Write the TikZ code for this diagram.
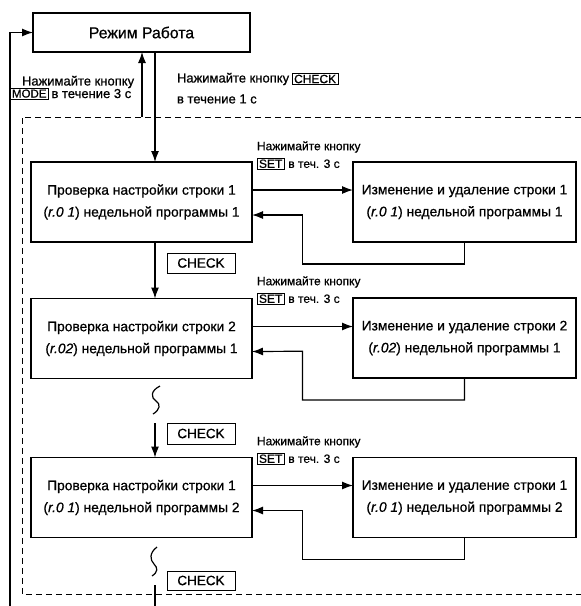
\documentclass[tikz,border=0pt]{standalone}
\usepackage{fontspec}
\setmainfont[FakeBold=0.7]{Liberation Sans}
\usetikzlibrary{arrows.meta,positioning,calc}

\newcommand{\segcode}[1]{\textit{#1}}

\begin{document}
\begin{tikzpicture}[
  x=1pt, y=-1pt,
  every node/.style={inner sep=0pt, outer sep=0pt},
  state/.style={draw, rectangle, line width=1.4pt, minimum width=221pt, minimum height=80pt,
    align=center, font=\fontsize{13.8}{22}\selectfont},
  keybox/.style={draw, rectangle, line width=0.8pt, inner xsep=2pt, inner ysep=1.5pt,
    font=\fontsize{12}{14}\selectfont},
  note/.style={font=\fontsize{13}{14}\selectfont},
  small/.style={font=\fontsize{12}{13}\selectfont},
  link/.style={line width=1.2pt},
  arr/.style={line width=1.2pt, -{Latex[length=11pt,width=8pt]}},
  frame/.style={line width=1pt, dash pattern=on 6pt off 4pt},
]
\useasboundingbox (0,0) rectangle (581,606);

% operating mode
\node[state, minimum width=217pt, minimum height=39pt, font=\fontsize{15.8}{18}\selectfont]
  (mode) at (141.5,32.5) {Режим Работа};

\node[note, anchor=west] (hintm) at (22,82) {Нажимайте кнопку};
\node[keybox, anchor=north west, font=\fontsize{11.5}{13}\selectfont] (modekey) at (10,88) {MODE};
\node[note, anchor=west] (timem) at ([xshift=3pt]modekey.east) {в течение 3 с};
\node[note, anchor=west] (hintc) at (177,79) {Нажимайте кнопку};
\node[keybox, anchor=west] (checkkey) at ([xshift=3pt]hintc.east) {CHECK};
\node[note, anchor=west] (timec) at (177,99) {в течение 1 с};

% rows of the week program
\node[state] (chk1) at (141.5,202) {Проверка настройки строки 1\\(\segcode{r.0 1}) недельной программы 1};
\node[state, minimum width=223pt] (edt1) at (464.5,202) {Изменение и удаление строки 1\\(\segcode{r.0 1}) недельной программы 1};
\node[state] (chk2) at (141.5,338.5) {Проверка настройки строки 2\\(\segcode{r.02}) недельной программы 1};
\node[state, minimum width=223pt] (edt2) at (464.5,338) {Изменение и удаление строки 2\\(\segcode{r.02}) недельной программы 1};
\node[state] (chk3) at (141.5,497.5) {Проверка настройки строки 1\\(\segcode{r.0 1}) недельной программы 2};
\node[state, minimum width=223pt] (edt3) at (464.5,497.5) {Изменение и удаление строки 1\\(\segcode{r.0 1}) недельной программы 2};

% SET hints
\foreach \r/\t in {1/162, 2/297, 3/457} {
  \node[small, anchor=west] (hint\r) at (257,\t-15) {Нажимайте кнопку};
  \node[keybox, small, anchor=north west] (set\r) at (257,\t-4) {SET};
  \node[small, anchor=west] (time\r) at ([xshift=4pt]set\r.east) {в теч. 3 с};
}

% CHECK keys
\node[keybox, anchor=north west, minimum width=68pt, minimum height=20pt, font=\fontsize{13.5}{15}\selectfont] (ck1) at (167,253) {CHECK};
\node[keybox, anchor=north west, minimum width=68pt, minimum height=21pt, font=\fontsize{13.5}{15}\selectfont] (ck2) at (167,423) {CHECK};
\node[keybox, anchor=north west, minimum width=68pt, minimum height=19pt, font=\fontsize{13.5}{15}\selectfont] (ck3) at (167,571) {CHECK};

\coordinate (col) at (155,0);
\coordinate (back) at (142,117);
\coordinate (fb) at (10,606);
\coordinate (s1) at (155,423);
\coordinate (s2) at (155,585);
\coordinate (bot) at (155,606);

% dashed frame
\draw[frame] (581,117) -| (22,594) -- (581,594);

% connectors
\draw[arr] (fb) |- (mode.west);
\draw[arr] (back) -- (back |- mode.south);
\draw[arr] (mode.south -| col) -- (chk1.north -| col);
\draw[arr] (chk1.south -| col) -- (chk2.north -| col);
\draw[arr] (s1) -- (s1 |- chk3.north);
\draw[link] (s2) -- (bot);

\foreach \r in {1,2,3} {
  \coordinate (mid\r) at ($(chk\r.east)!0.5!(edt\r.west)$);
  \draw[arr] ([yshift=12pt]chk\r.east) -- ([yshift=12pt]chk\r.east -| edt\r.west);
  \draw[arr] (edt\r.south) -- ++(0,22) -| ([yshift=-13pt]mid\r) -- ([yshift=-13pt]chk\r.east);
}

% breaks
\draw[link] (160,386) .. controls (150,391) and (151,398) .. (156,401) .. controls (161,404) and (160,410) .. (153,414);
\draw[link] (157,547) .. controls (149,553) and (150,560) .. (154,564) .. controls (158,568) and (158,572) .. (152,576);
\end{tikzpicture}
\end{document}
